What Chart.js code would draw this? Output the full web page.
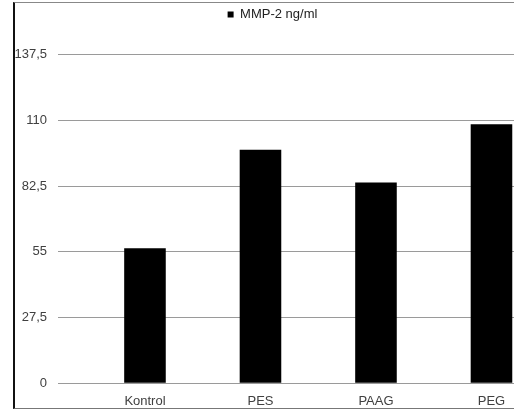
<!DOCTYPE html>
<html lang="en">
<head>
    <meta charset="UTF-8">
    <title>MMP-2 ng/ml</title>
    <script src="https://cdn.jsdelivr.net/npm/chart.js"></script>
    <style>
        html, body { margin: 0; padding: 0; background: #fff; overflow: hidden; }
        #wrap { position: relative; width: 514px; height: 410px; }
        #frame {
            position: absolute; left: 13px; top: 2px; width: 520px; height: 405px;
            border-left: 2px solid #111; border-top: 1px solid #888; border-bottom: 1px solid #777;
        }
        #chart { position: absolute; left: 0; top: 0; }
    </style>
</head>
<body>
    <div id="wrap">
        <div id="frame"></div>
        <canvas id="chart" width="514" height="410"></canvas>
    </div>

    <script>
        // data
        const categories = ['Kontrol', 'PES', 'PAAG', 'PEG'];
        const mmp2 = [56.5, 97.7, 84.0, 108.4];
        const yTicks = [0, 27.5, 55, 82.5, 110, 137.5];
        const seriesName = 'MMP-2 ng/ml';

        // legend sits higher than the plot and a bit right of centre
        const legendTweak = {
            id: 'legendTweak',
            beforeLayout(chart) {
                const legend = chart.legend;
                if (!legend || legend._tweaked) return;
                const fit = legend.fit;
                legend.fit = function () { fit.call(this); this.height = 54.7; };
                legend._tweaked = true;
            },
            afterLayout(chart) {
                chart.legend.left += 9;
                chart.legend.right += 9;
            }
        };

        const txt = '#404040';
        const font = { family: "'Liberation Sans', Arial, sans-serif", size: 13 };

        new Chart(document.getElementById('chart'), {
            type: 'bar',
            data: {
                datasets: [{
                    label: seriesName,
                    data: categories.map((c, i) => ({ x: i, y: mmp2[i] })),
                    backgroundColor: '#000',
                    borderWidth: 0,
                    barPercentage: 0.36,
                    categoryPercentage: 1
                }]
            },
            options: {
                responsive: false,
                animation: false,
                devicePixelRatio: 1,
                layout: { padding: { left: 13, right: 0, top: 0, bottom: 0 } },
                plugins: {
                    tooltip: { enabled: false },
                    legend: {
                        position: 'top',
                        labels: {
                            boxWidth: 6, boxHeight: 6, padding: 8,
                            color: '#222', font: font
                        }
                    }
                },
                scales: {
                    x: {
                        type: 'linear',
                        offset: false,
                        min: -0.753,
                        max: 3.195,
                        grid: { display: false },
                        border: { display: false },
                        afterBuildTicks: s => { s.ticks = categories.map((c, i) => ({ value: i })); },
                        afterFit: s => { s.height = 26.7; },
                        ticks: {
                            padding: 2, color: txt, font: font, autoSkip: false, maxRotation: 0,
                            callback: v => categories[v]
                        }
                    },
                    y: {
                        min: 0,
                        max: 137.5,
                        grid: { color: '#9a9a9a', lineWidth: 1, drawTicks: false },
                        border: { display: false },
                        afterBuildTicks: s => { s.ticks = yTicks.map(v => ({ value: v })); },
                        afterFit: s => { s.width = 45; },
                        ticks: {
                            padding: 11, color: txt, font: font,
                            callback: v => String(v).replace('.', ',')
                        }
                    }
                }
            },
            plugins: [legendTweak]
        });
    </script>
</body>
</html>
